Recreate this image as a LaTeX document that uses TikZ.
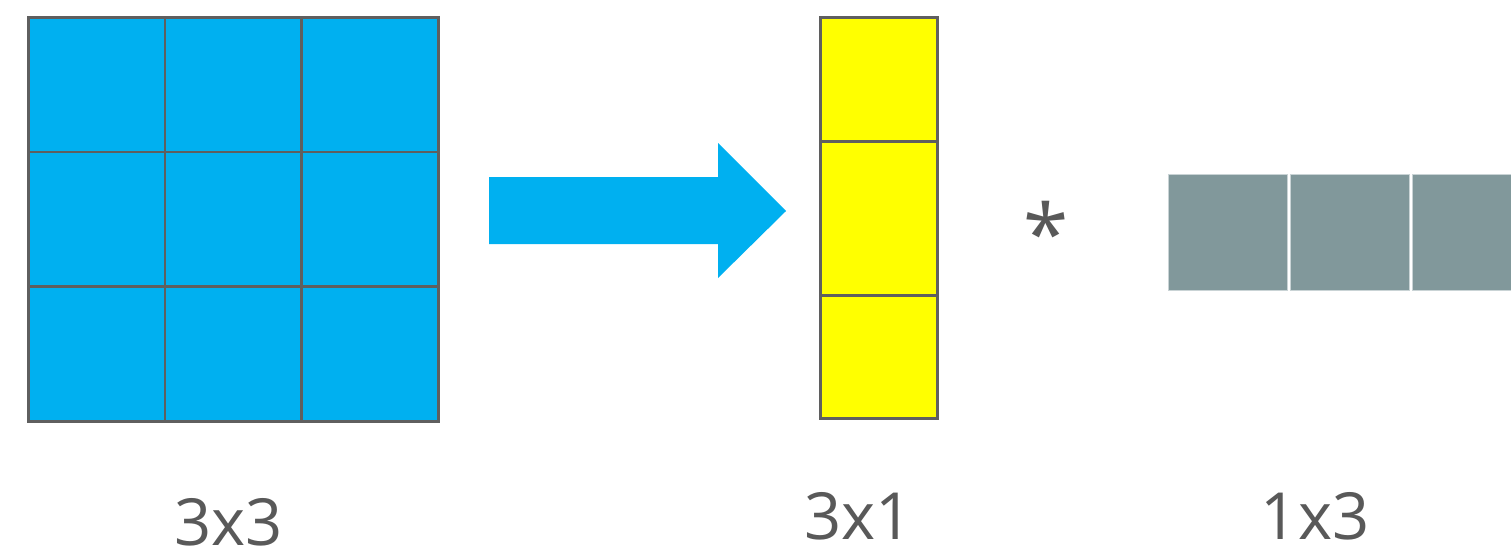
\documentclass[tikz,border=0pt]{standalone}
\usepackage{fontspec}
\setmainfont{Open Sans}
\definecolor{cellblue}{HTML}{00B0F0}
\definecolor{cellyellow}{HTML}{FFFF00}
\definecolor{cellgray}{HTML}{81989B}
\definecolor{gridline}{HTML}{5F5F5F}
\definecolor{lighedge}{HTML}{C9D3D5}
\definecolor{labelgray}{HTML}{595959}
\begin{document}
\begin{tikzpicture}[x=1pt,y=-1pt,
  bluecell/.style={draw=gridline,line width=2.6pt,fill=cellblue,anchor=north west,
    inner sep=0pt,minimum width=136.67pt,minimum height=134.67pt},
  yellowcell/.style={draw=gridline,line width=2.6pt,fill=cellyellow,anchor=north west,
    inner sep=0pt,minimum width=117pt},
  graycell/.style={draw=lighedge,line width=1.2pt,fill=cellgray,anchor=north west,
    inner sep=0pt,minimum width=119pt,minimum height=116pt},
  sizelabel/.style={text=labelgray,font=\fontsize{65}{65}\selectfont,anchor=base,
    inner sep=0pt,text depth=0pt}]
\clip (0,0) rectangle (1511,552);
\fill[white] (0,0) rectangle (1511,552);

% 3x3 kernel
\foreach \r in {0,1,2}{
  \foreach \c in {0,1,2}{
    \node[bluecell] (k\r\c) at ({27+136.67*\c},{16+134.67*\r}) {};
  }
}
\node[sizelabel] (lk) at (228.5,545) {3x3};

% arrow
\fill[cellblue] (489,177) -- (718,177) -- (718,143) -- (786,211)
  -- (718,278) -- (718,244) -- (489,244) -- cycle;

% 3x1 column
\node[yellowcell,minimum height=124pt] (c0) at (819,16) {};
\node[yellowcell,minimum height=154pt] (c1) at (819,140) {};
\node[yellowcell,minimum height=123pt] (c2) at (819,294) {};
\node[sizelabel] (lc) at (858.5,539) {3x1};

% product sign
\node[text=labelgray,font=\fontsize{82}{82}\selectfont,inner sep=0pt] (star) at (1046,232) {*};

% 1x3 row
\node[graycell] (r0) at (1168,174) {};
\node[graycell] (r1) at (1290,174) {};
\node[graycell] (r2) at (1412,174) {};
\node[sizelabel] (lr) at (1315,539) {1x3};
\end{tikzpicture}
\end{document}
